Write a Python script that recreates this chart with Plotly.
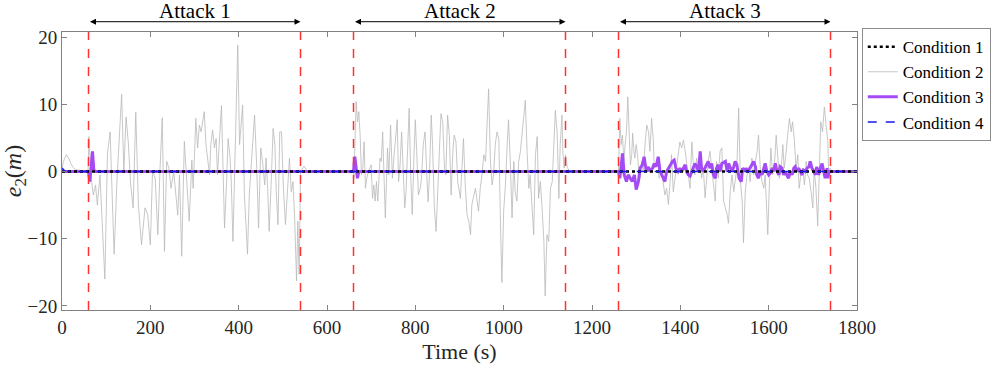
import numpy as np
import plotly.graph_objects as go

# ---- data (time in s, error e2 in m) ----
attack_starts = [60, 540, 660, 1140, 1260, 1740]
attack_labels = ["Attack 1", "Attack 2", "Attack 3"]

# Condition 2 (gray) - start-up transient and quiet phases
t_c2_idle = [0, 3, 10, 15, 20, 25, 30, 40, 50, 59]
e_c2_idle = [0.3, 1.5, 2.5, 2.0, 1.2, 0.6, 0.3, 0.1, 0.0, 0.0]

t_c2_a1 = [61, 66, 71, 76, 80, 86, 97, 103, 109, 114, 118, 124, 131, 135, 140, 145, 150, 155,
           161, 167, 173, 180, 188, 194, 200, 205, 211, 217, 222, 227, 232, 237, 242, 247, 253,
           257, 262, 266, 271, 277, 282, 288, 294, 297, 300, 303, 307, 311, 315, 318, 322, 326,
           330, 334, 337, 341, 345, 349, 352, 356, 361, 365, 368, 373, 376, 380, 383, 387, 391,
           394, 398, 402, 405, 409, 413, 417, 420, 424, 429, 433, 436, 441, 445, 450, 454, 459,
           462, 466, 469, 474, 478, 482, 485, 489, 493, 497, 501, 506, 510, 515, 519, 523, 527,
           531, 534, 537, 540, 548, 556]
e_c2_a1 = [5.2, -1.0, -3.5, -2.0, -5.0, -0.5, -16.0, 2.7, 5.9, -4.4, -12.3, -2.0, 6.2, 11.5, 0.0,
           8.1, 4.4, -1.5, -5.4, 8.8, -5.0, -10.9, -5.4, -6.4, -10.9, 0.0, -1.0, -9.4, 0.5, 8.0,
           -11.9, 1.5, 0.5, -2.5, 0.0, -3.0, -6.5, -0.5, -12.6, 4.5, -0.5, -7.4, 1.7, -2.5, 2.5,
           7.9, 3.5, 6.9, 5.9, 7.2, 8.9, 4.0, 2.0, -0.5, 4.0, 6.2, 3.5, 4.9, -0.5, 3.5, 9.8, -0.5,
           -8.4, -1.0, 4.9, 2.5, -1.0, -10.4, 0.5, 10.4, 18.8, 4.0, 6.4, 9.9, -3.5, -9.4, -12.3,
           -3.5, 1.5, 5.9, 8.4, 0.5, -8.4, 3.5, 1.5, -2.0, 2.0, -3.0, -8.9, -1.0, 6.4, 4.0, -3.0,
           -7.9, 5.9, 5.9, -2.0, -7.9, -3.0, 2.0, -3.0, -1.5, -7.4, -16.3, -7.4, -15.3, 0.0, 0.8,
           0.0]

t_c2_a2 = [660, 661, 663, 666, 669, 672, 675, 678, 681, 684, 687, 690, 694, 697, 700, 703, 706,
           709, 712, 715, 720, 723, 726, 729, 732, 737, 740, 744, 748, 752, 755, 759, 762, 765,
           769, 773, 776, 779, 783, 786, 790, 793, 797, 800, 803, 807, 811, 814, 818, 822, 826,
           829, 832, 836, 839, 843, 847, 851, 854, 858, 862, 866, 869, 873, 877, 881, 885, 888,
           892, 896, 902, 906, 909, 913, 917, 921, 925, 928, 932, 936, 940, 943, 947, 951, 955,
           959, 962, 966, 970, 974, 977, 981, 985, 989, 993, 996, 1000, 1004, 1008, 1011, 1015,
           1019, 1023, 1026, 1030, 1034, 1038, 1042, 1045, 1049, 1053, 1057, 1060, 1064, 1068,
           1072, 1076, 1079, 1083, 1087, 1091, 1094, 1098, 1102, 1106, 1110, 1113, 1117, 1121,
           1125, 1128, 1132, 1134, 1137, 1140, 1144, 1150]
e_c2_a2 = [0.0, -1.0, 3.0, 10.4, 7.4, 8.9, 5.4, -0.5, 0.5, 4.4, -2.5, -1.0, 0.0, 0.5, 1.0, -4.0,
           -2.0, -4.4, -1.5, -4.4, 2.0, 1.5, 5.9, -0.5, -6.9, 3.5, -0.5, 6.9, -1.0, 2.5, 5.4, 7.7,
           -1.5, 0.5, 5.9, -0.5, -5.4, -3.0, 4.0, 9.4, -1.5, -6.4, 2.5, 7.7, 3.0, -3.5, -2.5,
           -1.0, 4.0, 5.9, -0.5, -4.5, -0.5, 8.4, 4.0, -5.4, -8.9, -2.5, 4.0, 8.6, 7.4, 0.5, -0.5,
           8.4, 5.4, -3.5, 3.0, 5.4, 4.4, -1.5, -4.0, 0.5, 4.9, -2.0, -6.4, -7.4, -9.4, -4.9,
           -3.5, -2.5, -4.4, -5.9, -2.5, -0.5, 2.5, 1.5, 6.4, 12.3, 1.5, -2.0, -0.5, 4.0, 5.9,
           4.9, -8.4, -16.5, -5.9, -2.0, 4.0, 7.7, 1.5, -6.9, 1.5, -3.0, -4.4, 1.5, 3.0, 5.4, 7.9,
           10.6, 3.0, -2.5, -0.5, -5.4, -9.4, 2.5, 5.2, -4.0, -1.5, -5.4, -10.4, -18.5, -9.4,
           -10.4, -2.5, -1.5, 4.0, 9.1, 5.9, -4.0, 4.0, 8.4, 3.0, 0.5, 2.5, 0.6, 0.0]

t_c2_a3 = [1260, 1263, 1266, 1269, 1272, 1275, 1278, 1281, 1284, 1287, 1290, 1292, 1295, 1297,
           1300, 1303, 1306, 1309, 1312, 1316, 1320, 1324, 1328, 1331, 1335, 1339, 1341, 1344,
           1349, 1352, 1358, 1362, 1365, 1369, 1373, 1377, 1380, 1384, 1388, 1392, 1396, 1399,
           1403, 1407, 1411, 1414, 1418, 1422, 1426, 1429, 1433, 1437, 1441, 1445, 1448, 1452,
           1456, 1460, 1463, 1467, 1471, 1475, 1479, 1482, 1486, 1490, 1494, 1498, 1502, 1506,
           1509, 1513, 1517, 1521, 1524, 1528, 1532, 1536, 1540, 1543, 1547, 1551, 1555, 1558,
           1562, 1566, 1570, 1574, 1577, 1581, 1585, 1589, 1592, 1596, 1598, 1601, 1605, 1609,
           1613, 1617, 1620, 1624, 1628, 1632, 1635, 1639, 1643, 1647, 1651, 1654, 1658, 1662,
           1666, 1669, 1673, 1677, 1681, 1685, 1688, 1692, 1696, 1700, 1703, 1707, 1711, 1715,
           1718, 1722, 1726, 1730, 1734, 1736, 1739, 1745]
e_c2_a3 = [0.0, 7.9, 4.0, 5.4, 1.5, 4.0, 5.9, 11.1, 4.4, 1.0, 2.5, 5.7, 3.0, 2.0, 4.0, 2.5, 0.0,
           -1.0, 1.5, 0.0, 4.0, 6.9, 5.9, 3.0, 7.9, 4.4, 0.5, 1.0, 1.5, -1.0, 0.0, -2.0, -3.5,
           -2.5, -4.9, -1.5, 2.5, -3.0, -1.0, 1.0, 3.5, 4.4, 3.5, 4.7, 3.0, 1.5, -0.5, -2.5, 4.4,
           1.5, -0.5, 2.0, 0.0, 1.5, -1.0, 0.5, -3.9, -0.5, 1.5, 3.0, 0.5, -2.5, -4.4, 1.5, -1.0,
           3.0, 3.5, -4.4, -5.4, -6.4, -7.7, -3.0, -0.5, -3.0, -1.5, 0.5, 9.4, -1.5, -4.4, -10.6,
           -3.0, -0.5, 0.5, -1.5, 2.0, -0.5, 1.5, 3.0, 5.4, 0.5, -1.5, -2.5, -0.5, -6.9, -9.4,
           -3.0, 3.5, -0.5, 1.0, 5.4, 2.5, -1.0, 0.0, 4.0, 0.5, 2.5, 5.4, 7.9, 5.9, 7.4, 4.9, 0.5,
           2.5, -2.5, -0.5, 0.5, -2.0, 1.5, -0.5, -1.0, -3.0, -5.4, 0.5, -2.5, -8.1, 0.5, 7.4,
           5.9, 9.6, 6.9, 4.4, -0.5, 0.5, 0.0]
t_c2_end = [1800]
e_c2_end = [0.0]

# Condition 3 (purple)
t_c3 = [0, 60, 63, 66, 69, 72, 75, 660, 663, 666, 669, 672, 1260, 1263, 1269, 1273, 1278, 1282,
        1287, 1291, 1296, 1300, 1305, 1309, 1314, 1318, 1323, 1328, 1331, 1337, 1341, 1345, 1350,
        1354, 1358, 1361, 1365, 1369, 1373, 1378, 1382, 1386, 1390, 1395, 1399, 1403, 1407, 1411,
        1414, 1418, 1422, 1426, 1429, 1433, 1437, 1441, 1445, 1448, 1452, 1456, 1460, 1463, 1467,
        1471, 1475, 1479, 1482, 1486, 1490, 1494, 1502, 1506, 1509, 1513, 1517, 1521, 1524, 1528,
        1533, 1538, 1541, 1546, 1549, 1553, 1557, 1562, 1566, 1570, 1573, 1577, 1581, 1585, 1589,
        1592, 1596, 1600, 1604, 1608, 1611, 1615, 1619, 1623, 1626, 1630, 1634, 1638, 1641, 1645,
        1649, 1653, 1657, 1660, 1664, 1668, 1672, 1675, 1679, 1683, 1687, 1691, 1694, 1698, 1702,
        1706, 1709, 1713, 1717, 1721, 1724, 1728, 1732, 1734, 1737, 1740, 1800]
e_c3 = [0.0, 0.0, -1.5, 1.0, 3.0, 0.3, 0.0, 0.0, 2.2, 0.5, -1.0, 0.0, 0.0, -1.0, 2.7, -0.5,
        -1.5, -0.5, -1.0, -1.5, -0.5, -2.7, -1.5, 0.5, 1.0, 2.2, 0.0, 0.7, 0.0, 0.5, 1.2, 0.7,
        2.2, 0.0, -0.5, -1.0, -1.5, 0.0, 0.5, 1.0, 1.5, 1.7, 0.5, 0.0, 0.5, 0.0, 0.5, 1.0, 0.0,
        -0.5, -0.7, 0.0, 0.5, 1.2, 0.7, 0.0, 3.0, 0.5, 0.0, 0.5, 1.0, 1.5, 0.5, 1.2, -0.5, -1.0,
        0.5, 1.0, 0.0, 1.2, 1.5, 0.0, 1.2, 0.7, 0.0, 0.7, 1.5, 1.0, -1.0, -1.5, 0.5, 0.0, 0.5,
        0.0, 0.5, 1.2, 1.5, 0.7, -0.5, -1.0, 0.0, -0.5, 0.5, 1.2, 0.0, -0.5, -0.2, 0.5, 0.0, 1.2,
        0.0, -0.5, 0.7, 0.5, -0.5, 0.0, -0.5, -1.0, 0.0, -0.5, 0.5, 0.7, 0.0, 0.5, 0.0, -0.5,
        0.2, 0.0, 0.5, 0.7, 1.5, 0.5, 0.0, -0.5, 0.7, -0.5, 0.5, 1.2, 0.2, -1.0, 0.5, -1.0, 0.0,
        0.0, 0.0]

# Condition 1 (black dotted) and Condition 4 (blue dashed)
t_c1 = [0, 1800]
e_c1 = [0.0, 0.0]
t_c4 = [0, 3, 6, 10, 1800]
e_c4 = [0.5, 0.3, 0.1, 0.0, 0.0]

t_c2 = t_c2_idle + t_c2_a1 + t_c2_a2 + t_c2_a3 + t_c2_end
e_c2 = e_c2_idle + e_c2_a1 + e_c2_a2 + e_c2_a3 + e_c2_end

FONT = 'Liberation Serif'
INK = 'rgb(38,38,38)'
AXC = 'rgb(130,130,130)'

fig = go.Figure()
fig.add_trace(go.Scatter(x=t_c2, y=e_c2, mode='lines', name='Condition 2', legendrank=2,
                         line=dict(color='rgb(185,185,185)', width=0.8)))
fig.add_trace(go.Scatter(x=t_c3, y=e_c3, mode='lines', name='Condition 3', legendrank=3,
                         line=dict(color='rgb(165,75,245)', width=3)))
fig.add_trace(go.Scatter(x=t_c1, y=e_c1, mode='lines', name='Condition 1', legendrank=1,
                         line=dict(color='black', width=2.5, dash='dot')))
fig.add_trace(go.Scatter(x=t_c4, y=e_c4, mode='lines', name='Condition 4', legendrank=4,
                         line=dict(color='rgb(25,25,235)', width=1.5, dash='dash')))

shapes = []
for t in attack_starts:
    shapes.append(dict(type='line', xref='x', yref='paper', x0=t, x1=t, y0=0, y1=1,
                       line=dict(color='rgb(255,50,50)', width=1.5, dash='dash')))

annotations = []
for i, lab in enumerate(attack_labels):
    t0, t1 = attack_starts[2 * i], attack_starts[2 * i + 1]
    annotations.append(dict(x=t1, y=1.037, xref='x', yref='paper', ax=t0, ay=0,
                            axref='x', ayref='pixel', text='', showarrow=True,
                            arrowside='start+end', arrowhead=2, arrowsize=1.2,
                            arrowwidth=1, arrowcolor='black', standoff=0, startstandoff=0))
    annotations.append(dict(x=(t0 + t1) / 2, y=1.074, xref='x', yref='paper', text=lab,
                            showarrow=False, yanchor='middle',
                            font=dict(family=FONT, size=21, color='black')))

fig.update_layout(
    width=996, height=368,
    margin=dict(l=62, r=139, t=32, b=58, autoexpand=False),
    paper_bgcolor='white', plot_bgcolor='white',
    font=dict(family=FONT, size=19, color=INK),
    shapes=shapes,
    annotations=annotations,
    showlegend=True,
    legend=dict(x=1.006, y=1.014, xanchor='left', yanchor='top',
                bordercolor='rgb(140,140,140)', borderwidth=1, bgcolor='white',
                font=dict(family=FONT, size=17, color='black'),
                itemwidth=30, tracegroupgap=0),
    xaxis=dict(range=[0, 1800], tickvals=[0, 200, 400, 600, 800, 1000, 1200, 1400, 1600, 1800],
               showgrid=False, zeroline=False, showline=True, mirror='ticks',
               linecolor=AXC, ticks='inside', ticklen=5, tickcolor=AXC, automargin=False,
               tickfont=dict(family=FONT, size=19, color=INK),
               title=dict(text='Time (s)', font=dict(family=FONT, size=22, color=INK),
                          standoff=6)),
    yaxis=dict(range=[-20.6, 20.75], tickvals=[-20, -10, 0, 10, 20],
               showgrid=False, zeroline=False, showline=True, mirror='ticks',
               linecolor=AXC, ticks='inside', ticklen=5, tickcolor=AXC, automargin=False,
               tickfont=dict(family=FONT, size=19, color=INK),
               title=dict(text='<i>e</i><sub>2</sub>(<i>m</i>)',
                          font=dict(family=FONT, size=24, color=INK), standoff=0)),
)

# drop the browser's default 8px page margin so the figure sits at the window origin
fig.write_html("out.html", config={'displayModeBar': False},
               post_script="document.body.style.margin='0px';")
